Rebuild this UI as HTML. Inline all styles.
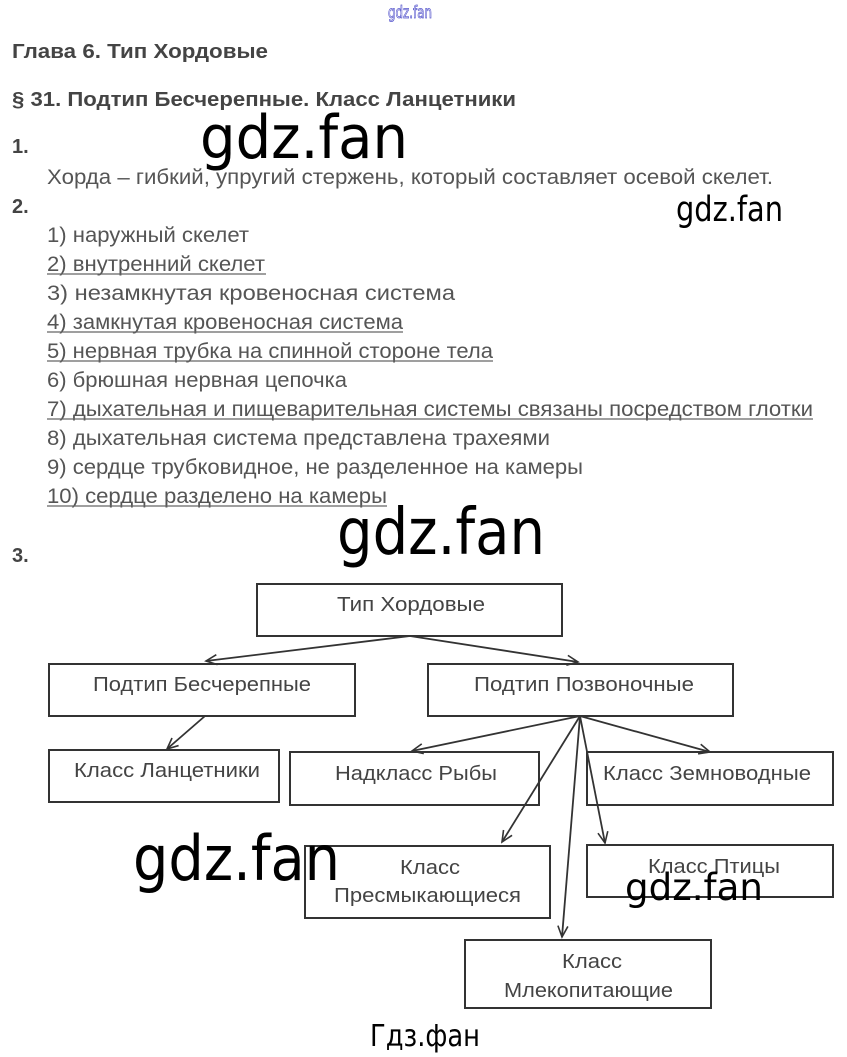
<!DOCTYPE html>
<html><head><meta charset="utf-8"><style>
html,body{margin:0;padding:0;background:#fff;}
svg{display:block;}
.t{font-family:"Liberation Sans",sans-serif;fill:#555;font-size:21px;}
.h{font-family:"Liberation Sans",sans-serif;fill:#444;font-size:20px;font-weight:bold;}
.b{font-family:"Liberation Sans",sans-serif;fill:#444;font-size:20px;}
.w{font-family:"DejaVu Sans",sans-serif;fill:#000;}
rect{fill:none;stroke:#333;stroke-width:2;}
line{stroke:#333;stroke-width:1.8;}
.u{stroke:#666;stroke-width:1.2;}
</style></head><body>
<svg width="847" height="1057" viewBox="0 0 847 1057" xmlns="http://www.w3.org/2000/svg">
<defs><marker id="a" markerWidth="14" markerHeight="14" refX="12" refY="6" orient="auto" markerUnits="userSpaceOnUse"><path d="M1,1 L12,6 L1,11" fill="none" stroke="#333" stroke-width="1.6"/></marker></defs>
<text class="w" x="388" y="18" font-size="17" textLength="44" lengthAdjust="spacingAndGlyphs" stroke="#55c" stroke-width="0.8" style="fill:none">gdz.fan</text>
<text class="h" x="12" y="58" textLength="256" lengthAdjust="spacingAndGlyphs">Глава 6. Тип Хордовые</text>
<text class="h" x="12" y="106" textLength="504" lengthAdjust="spacingAndGlyphs">§ 31. Подтип Бесчерепные. Класс Ланцетники</text>
<text class="h" x="12" y="153">1.</text>
<text class="w" x="200" y="158" font-size="60" textLength="208" lengthAdjust="spacingAndGlyphs">gdz.fan</text>
<text class="t" x="47" y="184" textLength="726" lengthAdjust="spacingAndGlyphs">Хорда – гибкий, упругий стержень, который составляет осевой скелет.</text>
<text class="h" x="12" y="213">2.</text>
<text class="w" x="676" y="221" font-size="35" textLength="107" lengthAdjust="spacingAndGlyphs">gdz.fan</text>
<text class="t" x="47" y="242" textLength="202" lengthAdjust="spacingAndGlyphs">1) наружный скелет</text>
<text class="t" x="47" y="271" textLength="218" lengthAdjust="spacingAndGlyphs">2) внутренний скелет</text><line class="u" x1="47" y1="274" x2="266" y2="274"/>
<text class="t" x="47" y="300" textLength="408" lengthAdjust="spacingAndGlyphs">3) незамкнутая кровеносная система</text>
<text class="t" x="47" y="329" textLength="356" lengthAdjust="spacingAndGlyphs">4) замкнутая кровеносная система</text><line class="u" x1="47" y1="332" x2="403" y2="332"/>
<text class="t" x="47" y="358" textLength="446" lengthAdjust="spacingAndGlyphs">5) нервная трубка на спинной стороне тела</text><line class="u" x1="47" y1="361" x2="493" y2="361"/>
<text class="t" x="47" y="387" textLength="300" lengthAdjust="spacingAndGlyphs">6) брюшная нервная цепочка</text>
<text class="t" x="47" y="416" textLength="766" lengthAdjust="spacingAndGlyphs">7) дыхательная и пищеварительная системы связаны посредством глотки</text><line class="u" x1="47" y1="419" x2="813" y2="419"/>
<text class="t" x="47" y="445" textLength="503" lengthAdjust="spacingAndGlyphs">8) дыхательная система представлена трахеями</text>
<text class="t" x="47" y="474" textLength="536" lengthAdjust="spacingAndGlyphs">9) сердце трубковидное, не разделенное на камеры</text>
<text class="t" x="47" y="503" textLength="340" lengthAdjust="spacingAndGlyphs">10) сердце разделено на камеры</text><line class="u" x1="47" y1="506" x2="387" y2="506"/>
<text class="w" x="337" y="554" font-size="64" textLength="208" lengthAdjust="spacingAndGlyphs">gdz.fan</text>
<text class="h" x="12" y="562">3.</text>

<rect x="257" y="584" width="305" height="52"/>
<rect x="49" y="664" width="306" height="52"/>
<rect x="428" y="664" width="305" height="52"/>
<rect x="49" y="750" width="230" height="52"/>
<rect x="290" y="752" width="249" height="53"/>
<rect x="587" y="752" width="246" height="53"/>
<rect x="305" y="846" width="245" height="72"/>
<rect x="587" y="845" width="246" height="52"/>
<rect x="465" y="940" width="246" height="68"/>

<line x1="410" y1="636" x2="206" y2="661" marker-end="url(#a)"/>
<line x1="410" y1="636" x2="578" y2="662" marker-end="url(#a)"/>
<line x1="205" y1="716" x2="167" y2="749" marker-end="url(#a)"/>
<line x1="580" y1="716" x2="412" y2="751" marker-end="url(#a)"/>
<line x1="580" y1="716" x2="710" y2="752" marker-end="url(#a)"/>
<line x1="580" y1="716" x2="502" y2="842" marker-end="url(#a)"/>
<line x1="580" y1="716" x2="562" y2="937" marker-end="url(#a)"/>
<line x1="580" y1="716" x2="605" y2="843" marker-end="url(#a)"/>

<text class="b" x="337" y="611" textLength="148" lengthAdjust="spacingAndGlyphs">Тип Хордовые</text>
<text class="b" x="93" y="691" textLength="218" lengthAdjust="spacingAndGlyphs">Подтип Бесчерепные</text>
<text class="b" x="474" y="691" textLength="220" lengthAdjust="spacingAndGlyphs">Подтип Позвоночные</text>
<text class="b" x="74" y="777" textLength="186" lengthAdjust="spacingAndGlyphs">Класс Ланцетники</text>
<text class="b" x="335" y="780" textLength="162" lengthAdjust="spacingAndGlyphs">Надкласс Рыбы</text>
<text class="b" x="603" y="780" textLength="208" lengthAdjust="spacingAndGlyphs">Класс Земноводные</text>
<text class="b" x="400" y="874" textLength="60" lengthAdjust="spacingAndGlyphs">Класс</text>
<text class="b" x="334" y="902" textLength="187" lengthAdjust="spacingAndGlyphs">Пресмыкающиеся</text>
<text class="b" x="648" y="873" textLength="132" lengthAdjust="spacingAndGlyphs">Класс Птицы</text>
<text class="b" x="562" y="968" textLength="60" lengthAdjust="spacingAndGlyphs">Класс</text>
<text class="b" x="504" y="997" textLength="169" lengthAdjust="spacingAndGlyphs">Млекопитающие</text>

<text class="w" x="133" y="880" font-size="62" textLength="207" lengthAdjust="spacingAndGlyphs">gdz.fan</text>
<text class="w" x="625" y="900" font-size="37" textLength="138" lengthAdjust="spacingAndGlyphs">gdz.fan</text>
<text class="w" x="370" y="1046" font-size="30" textLength="110" lengthAdjust="spacingAndGlyphs">Гдз.фан</text>
</svg>
</body></html>
